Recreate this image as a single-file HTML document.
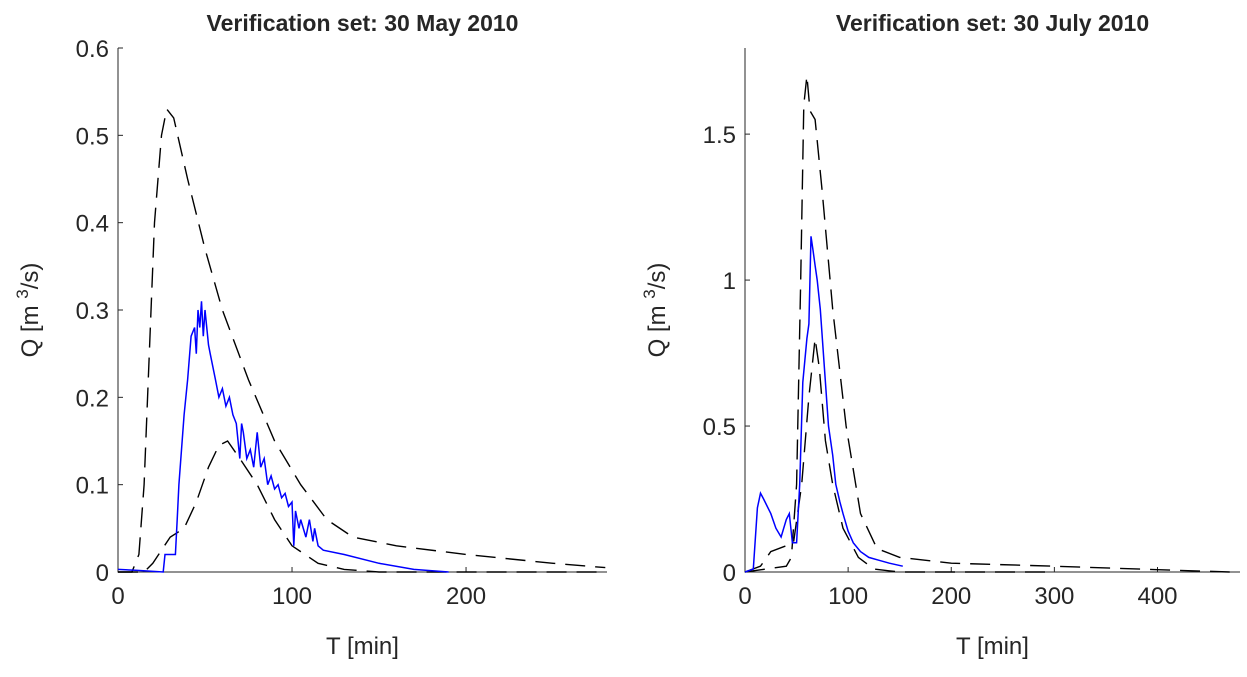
<!DOCTYPE html>
<html><head><meta charset="utf-8"><style>
body{margin:0;background:#fff;}
svg text{font-family:"Liberation Sans",sans-serif;fill:#262626;}
</style></head><body>
<svg id="c" width="1247" height="672" xmlns="http://www.w3.org/2000/svg"></svg>
<script>
// Left panel data
const leftObsT=[0,10,26,27,33,34,35,38,40,42,44,45,46,47,48,49,50,52,53,56,58,60,62,64,66,68,70,71,72,74,76,78,80,82,84,86,88,90,92,94,96,98,100,101,102,104,105,108,110,112,113,115,118,130,150,170,190];
const leftObsQ=[0.003,0.002,0,0.02,0.02,0.06,0.1,0.18,0.22,0.27,0.28,0.25,0.3,0.28,0.31,0.27,0.3,0.26,0.25,0.22,0.2,0.21,0.19,0.2,0.18,0.17,0.13,0.17,0.16,0.13,0.14,0.12,0.16,0.12,0.13,0.1,0.11,0.095,0.1,0.085,0.09,0.075,0.08,0.03,0.07,0.05,0.06,0.04,0.06,0.035,0.05,0.03,0.025,0.02,0.01,0.003,0];
const leftUpT=[0,8,12,15,18,21,25,28,32,40,50,60,75,90,105,120,135,160,200,250,280];
const leftUpQ=[0,0,0.02,0.1,0.25,0.4,0.5,0.53,0.52,0.45,0.37,0.3,0.22,0.15,0.1,0.06,0.04,0.03,0.02,0.01,0.005];
const leftLoT=[0,15,20,30,38,45,52,58,63,70,80,90,100,115,130,150,280];
const leftLoQ=[0,0,0.01,0.04,0.05,0.08,0.12,0.145,0.15,0.13,0.1,0.06,0.03,0.01,0.003,0,0];
const leftXTicks=[0,100,200];
const leftYTicks=[0,0.1,0.2,0.3,0.4,0.5,0.6];
// Right panel data
const rightObsT=[0,8,12,15,18,25,30,35,40,43,46,50,53,56,60,62,64,66,68,70,73,77,81,85,88,92,95,100,105,112,120,130,140,153];
const rightObsQ=[0,0.01,0.22,0.27,0.25,0.2,0.15,0.12,0.18,0.2,0.1,0.1,0.3,0.65,0.8,0.85,1.15,1.1,1.05,1.0,0.9,0.7,0.5,0.4,0.3,0.24,0.2,0.14,0.1,0.07,0.05,0.04,0.03,0.02];
const rightUpT=[0,40,45,50,54,57,60,63,68,75,85,98,112,128,150,200,300,400,470];
const rightUpQ=[0,0.02,0.05,0.3,1.0,1.6,1.7,1.58,1.55,1.3,0.9,0.5,0.2,0.08,0.05,0.03,0.02,0.008,0];
const rightLoT=[0,15,25,40,47,55,62,68,72,78,85,95,110,125,150,300];
const rightLoQ=[0,0.02,0.07,0.09,0.1,0.3,0.6,0.8,0.7,0.45,0.3,0.15,0.05,0.01,0,0];
const rightXTicks=[0,100,200,300,400];
const rightYTicks=[0,0.5,1,1.5];

const svg=document.getElementById('c');
const NS='http://www.w3.org/2000/svg';
function mk(tag,attrs,parent){const e=document.createElementNS(NS,tag);for(const k in attrs)e.setAttribute(k,attrs[k]);(parent||svg).appendChild(e);return e;}

function panel(p){
  const g=mk('g',{});
  
  
  const sx=v=>p.x0+(v-p.xmin)/(p.xmax-p.xmin)*(p.x1-p.x0);
  const sy=v=>p.y0-(v-p.ymin)/(p.ymax-p.ymin)*(p.y0-p.y1);
  const ax=mk('path',{d:`M${p.x0} ${p.y1}V${p.y0}H${p.x1}`,stroke:'#262626','stroke-width':1,fill:'none'},g);
  
  
  p.xt.forEach(v=>{
    mk('line',{x1:sx(v),x2:sx(v),y1:p.y0,y2:p.y0-5,stroke:'#262626'},g);
    const t=mk('text',{x:sx(v),y:p.y0+32,'font-size':24,'text-anchor':'middle'},g);
    t.textContent=v;
    
    
  });
  p.yt.forEach(v=>{
    mk('line',{x1:p.x0,x2:p.x0+5,y1:sy(v),y2:sy(v),stroke:'#262626'},g);
    const t=mk('text',{x:p.x0-9,y:sy(v)+9,'font-size':24,'text-anchor':'end'},g);
    t.textContent=v;
    
    
  });
  const xl=mk('text',{x:(p.x0+p.x1)/2,y:p.y0+82,'font-size':24,'text-anchor':'middle'},g);
  xl.textContent='T [min]';
  
  
  const yl=mk('text',{x:0,y:0,'font-size':24,'text-anchor':'middle',transform:`translate(${p.ylx},${(p.y0+p.y1)/2}) rotate(-90)`},g);
  yl.innerHTML='Q [m <tspan dy="-10" font-size="17">3</tspan><tspan dy="10">/s)</tspan>';
  
  
  const ti=mk('text',{x:(p.x0+p.x1)/2,y:31,'font-size':23,'font-weight':'bold','text-anchor':'middle',fill:'#000'},g);
  ti.textContent=p.title;
  
  
  const line=(T,Q,style,name)=>{
    const d=T.map((t,i)=>(i?'L':'M')+sx(t).toFixed(1)+' '+sy(Q[i]).toFixed(1)).join('');
    const e=mk('path',Object.assign({d,fill:'none'},style),g);
    
    
  };
  line(p.upT,p.upQ,{stroke:'#000','stroke-width':1.4,'stroke-dasharray':'20 10'},'upper-bound-line');
  line(p.loT,p.loQ,{stroke:'#000','stroke-width':1.4,'stroke-dasharray':'20 10'},'lower-bound-line');
  line(p.obsT,p.obsQ,{stroke:'#0000ff','stroke-width':1.5},'observed-line');
}
panel({name:'panel-may',x0:118,x1:607,xmin:0,xmax:281,y0:572,y1:48,ymin:0,ymax:0.6,xt:leftXTicks,yt:leftYTicks,ylx:38,
  title:'Verification set: 30 May 2010',obsT:leftObsT,obsQ:leftObsQ,upT:leftUpT,upQ:leftUpQ,loT:leftLoT,loQ:leftLoQ});
panel({name:'panel-july',x0:745,x1:1240,xmin:0,xmax:480,y0:572,y1:48,ymin:0,ymax:1.795,xt:rightXTicks,yt:rightYTicks,ylx:665,
  title:'Verification set: 30 July 2010',obsT:rightObsT,obsQ:rightObsQ,upT:rightUpT,upQ:rightUpQ,loT:rightLoT,loQ:rightLoQ});
</script>
</body></html>
